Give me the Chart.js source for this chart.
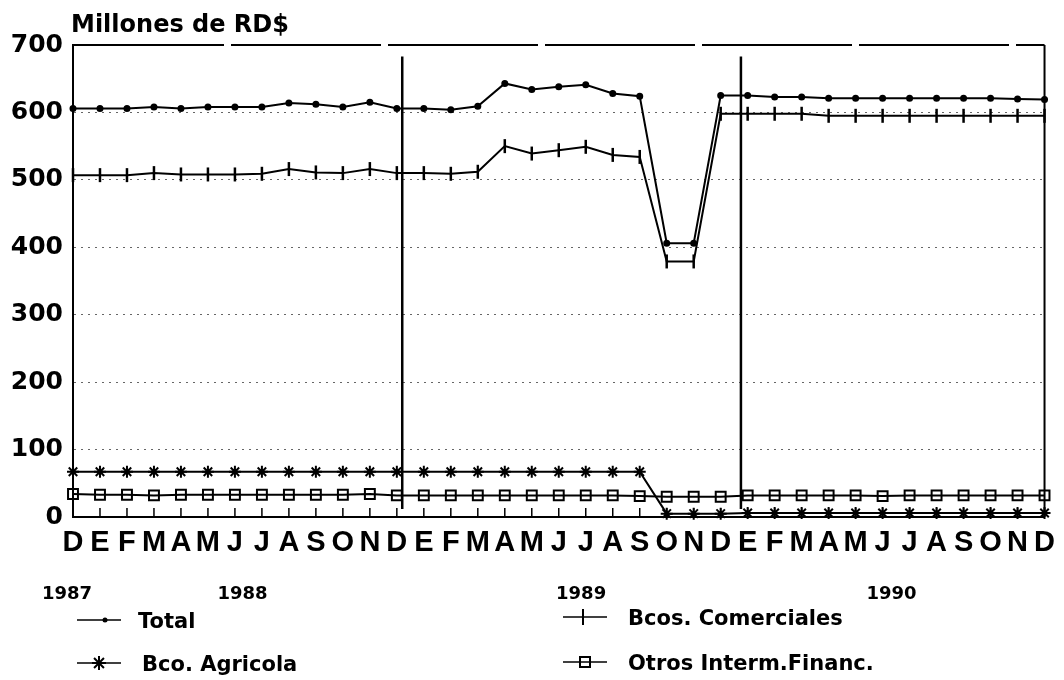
<!DOCTYPE html>
<html>
<head>
<meta charset="utf-8">
<script src="https://cdn.jsdelivr.net/npm/chart.js@4.4.1/dist/chart.umd.min.js"></script>
<style>
	body { margin: 0; background: #fff; }
	canvas { display: block; }
</style>
</head>
<body>
<canvas id="graficaCartera" width="1064" height="680"></canvas>
<script>
// meses dic-1987 a dic-1990
const meses = ['D','E','F','M','A','M','J','J','A','S','O','N','D',
	'E','F','M','A','M','J','J','A','S','O','N','D',
	'E','F','M','A','M','J','J','A','S','O','N','D'];
const anios = ['1987', '1988', '1989', '1990'];

const total = [606, 606, 606, 608, 606, 608, 608, 608, 614, 612, 608, 615, 606,
	606, 604, 609, 643, 634, 638, 641, 628, 624, 406, 406, 625,
	625, 623, 623, 621, 621, 621, 621, 621, 621, 621, 620, 619];
const bcosComerciales = [507, 507, 507, 510, 508, 508, 508, 509, 516, 511, 510, 516, 510,
	510, 509, 512, 550, 539, 544, 549, 537, 534, 379, 379, 598,
	598, 598, 598, 595, 595, 595, 595, 595, 595, 595, 595, 595];
const bcoAgricola = [67, 67, 67, 67, 67, 67, 67, 67, 67, 67, 67, 67, 67,
	67, 67, 67, 67, 67, 67, 67, 67, 67, 5, 5, 5,
	6, 6, 6, 6, 6, 6, 6, 6, 6, 6, 6, 6];
const otrosInterm = [34, 33, 33, 32, 33, 33, 33, 33, 33, 33, 33, 34, 32,
	32, 32, 32, 32, 32, 32, 32, 32, 31, 30, 30, 30,
	32, 32, 32, 32, 32, 31, 32, 32, 32, 32, 32, 32];

const separadores = [12.2, 24.75];          // lineas entre anios (en meses)
const posAnios = [-1.15, 5.35, 17.9, 29.4];  // inicio de la etiqueta de anio

const fuente = '"DejaVu Sans", sans-serif';

function puntos(serie) {
	return serie.map((v, i) => ({ x: i, y: v }));
}

const adornos = {
	id: 'adornos',
	afterDraw(chart) {
		const ctx = chart.ctx;
		const area = chart.chartArea;
		const x = chart.scales.x;
		const y = chart.scales.y;
		ctx.save();
		ctx.strokeStyle = '#000';

		// borde derecho
		ctx.lineWidth = 2;
		ctx.beginPath();
		ctx.moveTo(area.right, area.top);
		ctx.lineTo(area.right, area.bottom);
		ctx.stroke();

		// separadores de anio
		ctx.lineWidth = 2.5;
		separadores.forEach(s => {
			ctx.beginPath();
			ctx.moveTo(x.getPixelForValue(s), y.getPixelForValue(683));
			ctx.lineTo(x.getPixelForValue(s), y.getPixelForValue(12));
			ctx.stroke();
		});

		// marcas del eje x hacia adentro
		ctx.lineWidth = 1.5;
		for (let i = 1; i < meses.length; i++) {
			const px = x.getPixelForValue(i);
			ctx.beginPath();
			ctx.moveTo(px, area.bottom);
			ctx.lineTo(px, area.bottom - 9);
			ctx.stroke();
		}

		// titulo
		ctx.fillStyle = '#000';
		ctx.textBaseline = 'alphabetic';
		ctx.textAlign = 'left';
		ctx.font = 'bold 24px ' + fuente;
		ctx.fillText('Millones de RD$', 71, 32);

		// anios
		ctx.font = 'bold 18px ' + fuente;
		anios.forEach((a, i) => {
			ctx.fillText(a, x.getPixelForValue(posAnios[i]), 599);
		});

		// leyenda
		const leyenda = [
			{ texto: 'Total', x: 77, y: 620, tx: 138, estilo: 'punto' },
			{ texto: 'Bco. Agricola', x: 77, y: 663, tx: 142, estilo: 'estrella' },
			{ texto: 'Bcos. Comerciales', x: 563, y: 617, tx: 628, estilo: 'cruz' },
			{ texto: 'Otros Interm.Financ.', x: 563, y: 662, tx: 628, estilo: 'cuadro' }
		];
		leyenda.forEach(l => {
			const cx = l.x + 22;
			ctx.lineWidth = 1.5;
			ctx.beginPath();
			ctx.moveTo(l.x, l.y);
			ctx.lineTo(l.x + 44, l.y);
			ctx.stroke();
			ctx.lineWidth = 2;
			ctx.beginPath();
			if (l.estilo === 'punto') {
				ctx.arc(cx + 6, l.y, 2.5, 0, Math.PI * 2);
				ctx.fill();
			} else if (l.estilo === 'cruz') {
				ctx.moveTo(cx - 2, l.y - 8);
				ctx.lineTo(cx - 2, l.y + 8);
				ctx.stroke();
			} else if (l.estilo === 'estrella') {
				for (let k = 0; k < 4; k++) {
					const ang = k * Math.PI / 4;
					ctx.moveTo(cx - 7 * Math.cos(ang), l.y - 7 * Math.sin(ang));
					ctx.lineTo(cx + 7 * Math.cos(ang), l.y + 7 * Math.sin(ang));
				}
				ctx.stroke();
			} else {
				ctx.strokeRect(cx - 5, l.y - 5, 10, 10);
			}
			ctx.font = 'bold 21px ' + fuente;
			ctx.fillText(l.texto, l.tx, l.y + 8);
		});
		ctx.restore();
	}
};

new Chart(document.getElementById('graficaCartera'), {
	type: 'line',
	data: {
		datasets: [
			{
				label: 'Total',
				data: puntos(total),
				borderColor: '#000',
				borderWidth: 2,
				pointStyle: 'circle',
				pointRadius: 2.5,
				pointBackgroundColor: '#000',
				pointBorderColor: '#000',
				tension: 0,
				clip: false
			},
			{
				label: 'Bcos. Comerciales',
				data: puntos(bcosComerciales),
				borderColor: '#000',
				borderWidth: 2,
				pointStyle: 'line',
				pointRotation: 90,
				pointRadius: 7,
				pointBorderWidth: 2.5,
				pointBorderColor: '#000',
				tension: 0,
				clip: false
			},
			{
				label: 'Bco. Agricola',
				data: puntos(bcoAgricola),
				borderColor: '#000',
				borderWidth: 2,
				pointStyle: 'star',
				pointRadius: 6,
				pointBorderWidth: 2,
				pointBorderColor: '#000',
				tension: 0,
				clip: false
			},
			{
				label: 'Otros Interm.Financ.',
				data: puntos(otrosInterm),
				borderColor: '#000',
				borderWidth: 2,
				pointStyle: 'rect',
				pointRadius: 7,
				pointBorderWidth: 2,
				pointBackgroundColor: 'rgba(0,0,0,0)',
				pointBorderColor: '#000',
				tension: 0,
				clip: false
			}
		]
	},
	options: {
		responsive: false,
		animation: false,
		layout: { padding: { top: 45, right: 17, left: 0, bottom: 0 } },
		plugins: {
			legend: { display: false },
			tooltip: { enabled: false }
		},
		scales: {
			x: {
				type: 'linear',
				min: 0,
				max: meses.length - 1,
				afterFit: s => { s.height = 163; },
				ticks: {
					stepSize: 1,
					autoSkip: false,
					maxTicksLimit: 50,
					maxRotation: 0,
					padding: 9,
					color: '#000',
					font: { family: '"Liberation Sans", Arial, sans-serif', size: 29, weight: 'bold' },
					callback: v => meses[v]
				},
				grid: { drawOnChartArea: false, drawTicks: false },
				border: { display: true, color: '#000', width: 2 }
			},
			y: {
				min: 0,
				max: 700,
				afterFit: s => { s.width = 73; },
				ticks: {
					stepSize: 100,
					padding: 10,
					color: '#000',
					font: { family: fuente, size: 25, weight: 'bold' }
				},
				grid: {
					drawTicks: false,
					color: c => (c.tick && (c.tick.value === 700 || c.tick.value === 0)) ? '#000' : '#666',
					lineWidth: c => (c.tick && (c.tick.value === 700 || c.tick.value === 0)) ? 2 : 1
				},
				border: {
					display: true,
					color: '#000',
					width: 2,
					dash: c => {
						if (!c.tick) return [];
						if (c.tick.value === 700) return [150, 7];
						if (c.tick.value === 0) return [];
						return [2, 5];
					}
				}
			}
		}
	},
	plugins: [adornos]
});
</script>
</body>
</html>
